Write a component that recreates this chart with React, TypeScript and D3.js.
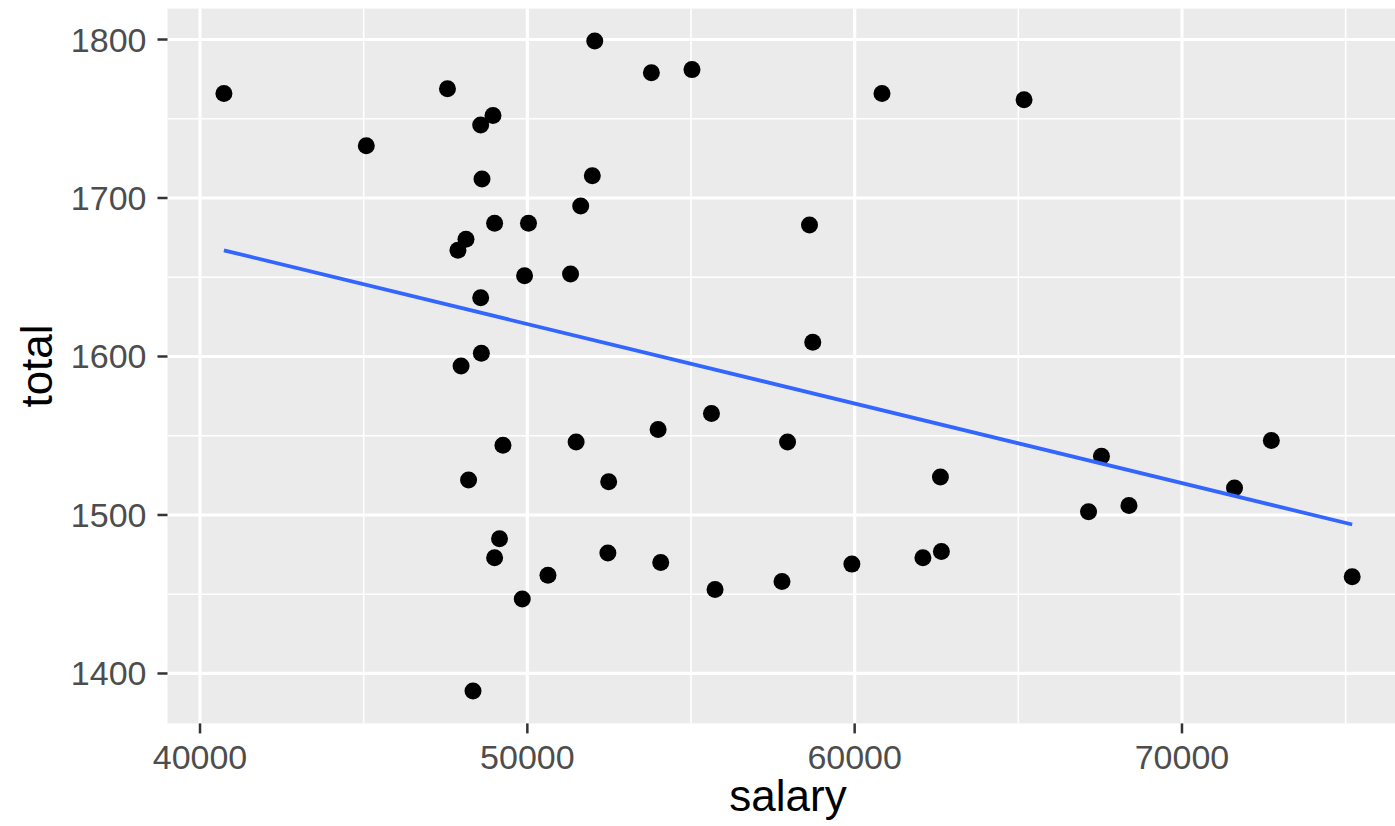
import React, { useEffect, useRef } from "react";
import * as d3 from "d3";

// salary vs total
const salary = [
  40730, 45080, 47560, 47880, 48125, 47975, 48575, 48950, 48615, 49000,
  50035, 49915, 48575, 48595, 51320, 51630, 51985, 52060, 53790, 55030,
  60835, 65175, 58620, 58720, 48205, 48340, 49255, 49150, 49000, 49845,
  50630, 51490, 52485, 52460, 53995, 54075, 55625, 55735, 57950, 57780,
  59915, 62085, 62650, 62620, 67145, 67540, 68380, 71605, 72730, 75200,
];
const total = [
  1766, 1733, 1769, 1667, 1674, 1594, 1746, 1752, 1712, 1684,
  1684, 1651, 1637, 1602, 1652, 1695, 1714, 1799, 1779, 1781,
  1766, 1762, 1683, 1609, 1522, 1389, 1544, 1485, 1473, 1447,
  1462, 1546, 1521, 1476, 1554, 1470, 1564, 1453, 1546, 1458,
  1469, 1473, 1477, 1524, 1502, 1537, 1506, 1517, 1547, 1461,
];

// end points of the lm smooth line
const fitSalary = [40730, 75200];
const fitTotal = [1667, 1494];

const xTicks = [40000, 50000, 60000, 70000];
const xMinor = [45000, 55000, 65000, 75000];
const yTicks = [1400, 1500, 1600, 1700, 1800];
const yMinor = [1450, 1550, 1650, 1750];

const W = 1395;
const H = 826;
const panel = { left: 167.5, right: 1408.6, top: 8.6, bottom: 723.4 };

function expand(ext: [number, number]): [number, number] {
  const pad = (ext[1] - ext[0]) * 0.05;
  return [ext[0] - pad, ext[1] + pad];
}

export default function App() {
  const ref = useRef<SVGSVGElement>(null);

  useEffect(() => {
    const svg = d3.select(ref.current);
    svg.selectAll("*").remove();

    const x = d3.scaleLinear()
      .domain(expand(d3.extent(salary) as [number, number]))
      .range([panel.left, panel.right]);
    const y = d3.scaleLinear()
      .domain(expand(d3.extent(total) as [number, number]))
      .range([panel.bottom, panel.top]);

    const font = "'Liberation Sans', Arial, Helvetica, sans-serif";

    svg.append("rect").attr("x", panel.left).attr("y", panel.top)
      .attr("width", panel.right - panel.left).attr("height", panel.bottom - panel.top)
      .attr("fill", "#EBEBEB");

    // grid
    const grid = svg.append("g").attr("stroke", "#fff");
    grid.selectAll(".ym").data(yMinor).join("line").attr("class", "ym")
      .attr("x1", panel.left).attr("x2", panel.right)
      .attr("y1", (d) => y(d)).attr("y2", (d) => y(d)).attr("stroke-width", 1.6);
    grid.selectAll(".xm").data(xMinor).join("line").attr("class", "xm")
      .attr("y1", panel.top).attr("y2", panel.bottom)
      .attr("x1", (d) => x(d)).attr("x2", (d) => x(d)).attr("stroke-width", 1.6);
    grid.selectAll(".yM").data(yTicks).join("line").attr("class", "yM")
      .attr("x1", panel.left).attr("x2", panel.right)
      .attr("y1", (d) => y(d)).attr("y2", (d) => y(d)).attr("stroke-width", 3.2);
    grid.selectAll(".xM").data(xTicks).join("line").attr("class", "xM")
      .attr("y1", panel.top).attr("y2", panel.bottom)
      .attr("x1", (d) => x(d)).attr("x2", (d) => x(d)).attr("stroke-width", 3.2);

    // points
    svg.append("g").selectAll("circle").data(salary).join("circle")
      .attr("cx", (d) => x(d)).attr("cy", (d, i) => y(total[i]))
      .attr("r", 8.5).attr("fill", "#000");

    // smooth
    const line = d3.line<number>().x((d) => x(d)).y((d, i) => y(fitTotal[i]));
    svg.append("path").attr("d", line(fitSalary)).attr("fill", "none")
      .attr("stroke", "#3366FF").attr("stroke-width", 3.8);

    // y axis
    const ya = svg.append("g");
    ya.selectAll("line").data(yTicks).join("line")
      .attr("x1", panel.left - 10).attr("x2", panel.left)
      .attr("y1", (d) => y(d)).attr("y2", (d) => y(d))
      .attr("stroke", "#333").attr("stroke-width", 2.5);
    ya.selectAll("text").data(yTicks).join("text")
      .attr("x", panel.left - 21).attr("y", (d) => y(d) + 12)
      .attr("text-anchor", "end").attr("font-family", font).attr("font-size", 34)
      .attr("fill", "#4D4D4D").text((d) => String(d));

    // x axis
    const xa = svg.append("g");
    xa.selectAll("line").data(xTicks).join("line")
      .attr("y1", panel.bottom).attr("y2", panel.bottom + 10)
      .attr("x1", (d) => x(d)).attr("x2", (d) => x(d))
      .attr("stroke", "#333").attr("stroke-width", 2.5);
    xa.selectAll("text").data(xTicks).join("text")
      .attr("x", (d) => x(d)).attr("y", 769)
      .attr("text-anchor", "middle").attr("font-family", font).attr("font-size", 34)
      .attr("fill", "#4D4D4D").text((d) => String(d));

    // titles
    svg.append("text").attr("x", (panel.left + W) / 2 + (panel.right - W) / 2).attr("y", 811)
      .attr("text-anchor", "middle").attr("font-family", font).attr("font-size", 44)
      .attr("fill", "#000").text("salary");
    svg.append("text")
      .attr("transform", `translate(52,${(panel.top + panel.bottom) / 2}) rotate(-90)`)
      .attr("text-anchor", "middle").attr("font-family", font).attr("font-size", 44)
      .attr("fill", "#000").text("total");
  }, []);

  return (
    <svg ref={ref} width={W} height={H}
      style={{ position: "absolute", left: 0, top: 0, background: "#fff", overflow: "hidden" }} />
  );
}
